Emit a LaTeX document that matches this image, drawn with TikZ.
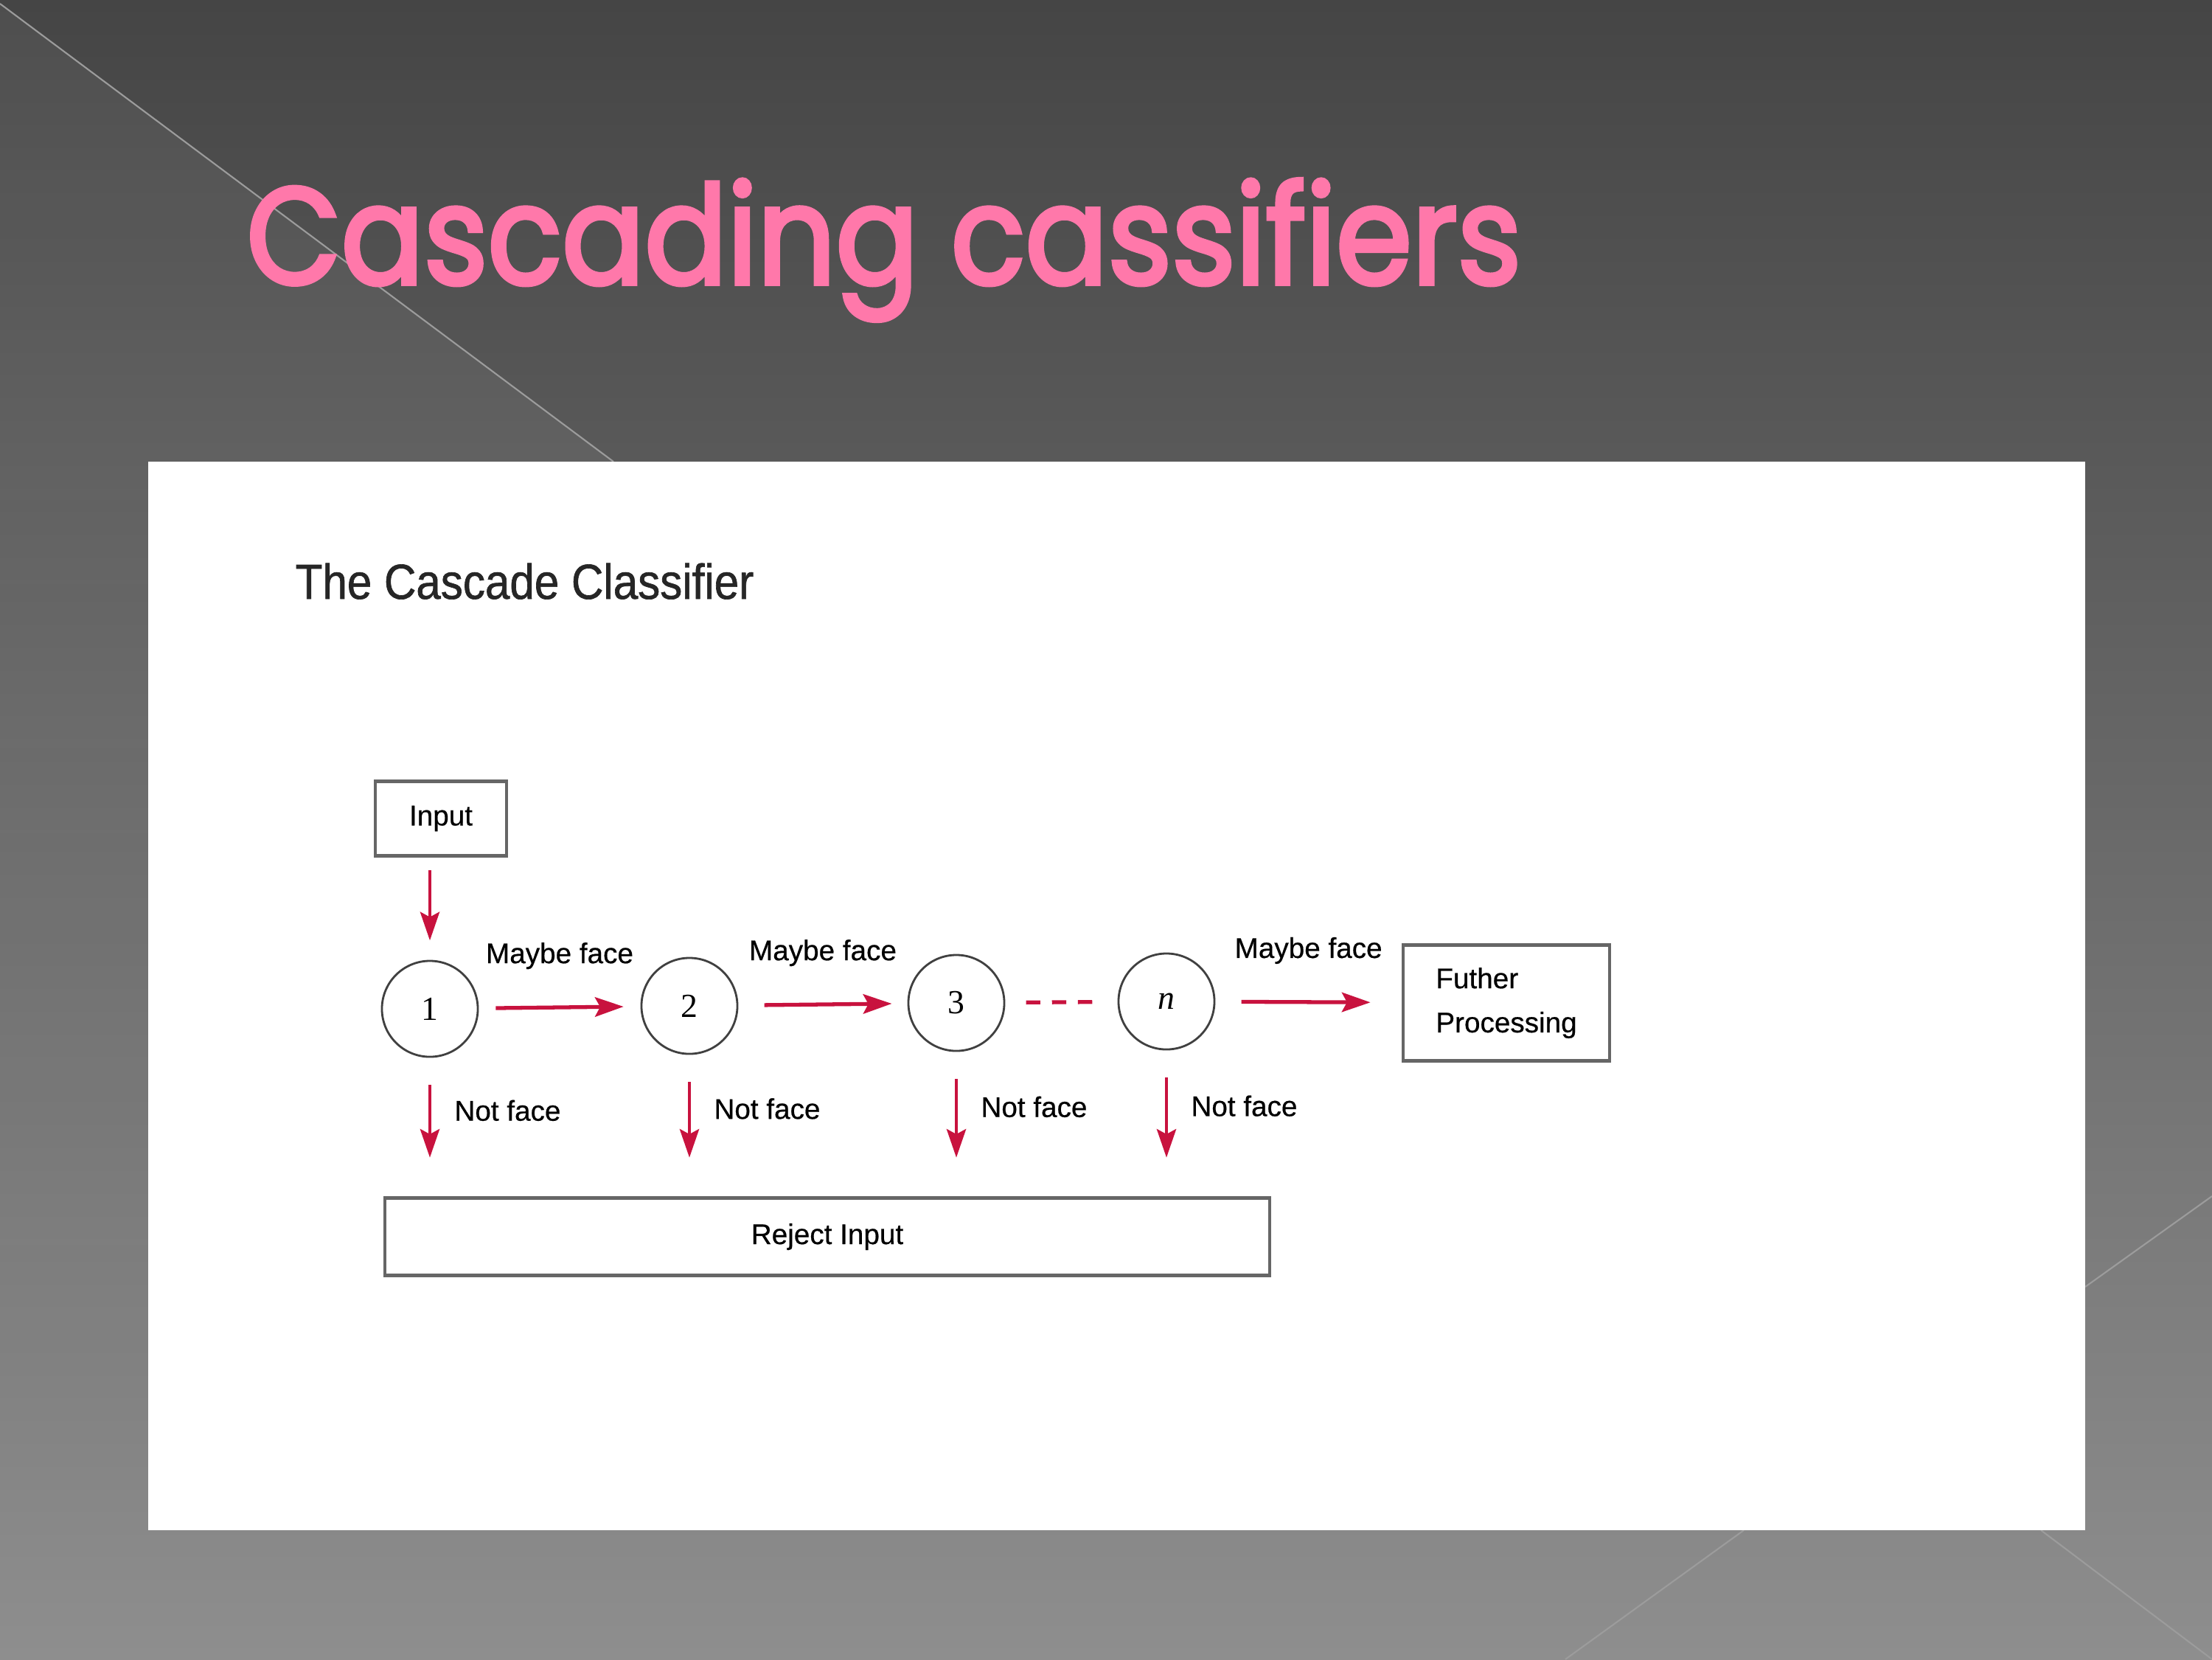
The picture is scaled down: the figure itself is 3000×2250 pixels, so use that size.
\documentclass[tikz,border=0pt]{standalone}
\usepackage{fontspec}
\setmainfont[FakeBold=0.5]{Liberation Sans}
\newfontfamily\titlefont[FakeStretch=0.89,FakeBold=3]{Poppins}
\newfontfamily\numfont{Liberation Serif}
\newfontfamily\headfont[FakeStretch=0.9,FakeBold=1]{Liberation Sans}
\usetikzlibrary{arrows.meta,positioning,fadings}
\definecolor{arrowred}{HTML}{C8123E}
\definecolor{titlepink}{HTML}{FF78AA}
\definecolor{bgtop}{HTML}{454545}
\definecolor{bgbottom}{HTML}{8E8E8E}
\definecolor{bgline}{HTML}{9C9C9C}
\begin{document}
\begin{tikzpicture}[x=0.01cm,y=-0.01cm]
\useasboundingbox (0,0) rectangle (3000,2250);
% Hintergrund
\shade[top color=bgtop,bottom color=bgbottom] (0,0) rectangle (3000,2250);
\fill[white,opacity=0.05] (0,5) -- (832,626) -- (0,626) -- cycle;
\fill[white,opacity=0.05,path fading=south] (0,626) rectangle (201,2075);
\begin{scope}[bgline,line width=0.6pt]
    \draw (0,5) -- (832,626);
    \draw (2828,1745) -- (3000,1622);
    \draw (2768,2075) -- (3000,2250);
    \draw (2365,2075) -- (2123,2250);
\end{scope}
\fill[white] (201,626) rectangle (2828,2075);

% Titel
\node[anchor=base west,inner sep=0pt,text=titlepink,font=\titlefont\fontsize{53}{60}\selectfont] (T) at (334,385) {Cascading cassifiers};
\node[anchor=base west,inner sep=0pt,text=black!85,font=\headfont\fontsize{19}{22}\selectfont] (H) at (400,812) {The Cascade Classifier};

% Stufen
\begin{scope}[every node/.style={circle,draw=black!75,line width=0.8pt,minimum size=1.3cm,inner sep=0pt,font=\numfont\fontsize{13}{15}\selectfont}]
    \node (C1) at (583,1368) {1};
    \node (C2) at (935,1364) {2};
    \node (C3) at (1297,1360) {3};
    \node (CN) at (1582,1358) {\itshape n};
\end{scope}

\begin{scope}[every node/.style={rectangle,draw=black!60,line width=1.2pt,inner sep=0pt,font=\fontsize{11}{17}\selectfont}]
    \node[minimum width=1.78cm,minimum height=1.01cm] (IN) at (598,1110) {Input};
    \node[minimum width=2.8cm,minimum height=1.57cm,align=left] (FP) at (2043,1360) {Futher\\Processing};
    \node[minimum width=12cm,minimum height=1.05cm] (RJ) at (1122,1677) {Reject Input};
\end{scope}

\coordinate (I1) at (C1 |- IN.south);
\coordinate (R1) at (C1 |- RJ.north);
\coordinate (R2) at (C2 |- RJ.north);
\coordinate (R3) at (C3 |- RJ.north);
\coordinate (RN) at (CN |- RJ.north);

\begin{scope}[>={Stealth[length=11pt,width=7.5pt,inset=2pt]},
              every node/.style={inner sep=2pt,font=\fontsize{11}{13}\selectfont},
              every edge/.style={draw=arrowred,line width=1.5pt}]
    % vielleicht Gesicht
    \path [->] (I1) edge[line width=1pt,shorten <=5pt,shorten >=7.5pt] (C1);
    \path [->] (C1) edge[shorten <=6.5pt,shorten >=6.5pt] node[above=12pt] (M1) {Maybe face} (C2);
    \path [->] (C2) edge[shorten <=10pt,shorten >=6pt] node[above=12pt] (M2) {Maybe face} (C3);
    \path [->] (CN) edge[shorten <=10pt,shorten >=12pt] node[above=12pt] (M3) {Maybe face} (FP);
    \path (C3) edge[dashed,dash pattern=on 5.5pt off 4.5pt,shorten <=8pt,shorten >=9.5pt] (CN);
    % kein Gesicht
    \path [->] (C1) edge[line width=1pt,shorten <=10.5pt,shorten >=15pt] node[right=7pt,pos=0.38] (N1) {Not face} (R1);
    \path [->] (C2) edge[line width=1pt,shorten <=10.5pt,shorten >=15pt] node[right=7pt,pos=0.38] (N2) {Not face} (R2);
    \path [->] (C3) edge[line width=1pt,shorten <=10.5pt,shorten >=15pt] node[right=7pt,pos=0.38] (N3) {Not face} (R3);
    \path [->] (CN) edge[line width=1pt,shorten <=10.5pt,shorten >=15pt] node[right=7pt,pos=0.38] (N4) {Not face} (RN);
\end{scope}
\end{tikzpicture}
\end{document}
